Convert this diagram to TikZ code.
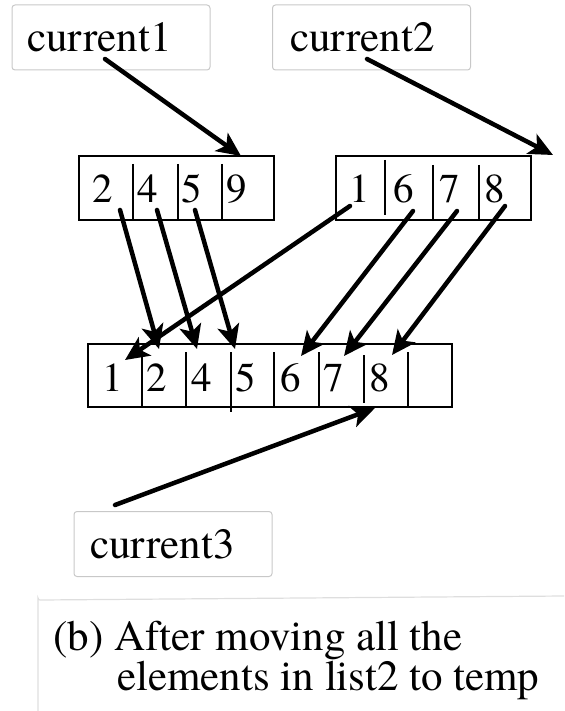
\documentclass[tikz,border=0pt]{standalone}
\usepackage{fontspec}
\newfontfamily\timesx{TeX Gyre Termes}
\usetikzlibrary{arrows.meta}
\definecolor{labelgray}{RGB}{200,200,200}
\definecolor{capgray}{RGB}{222,222,222}
\begin{document}
\begin{tikzpicture}[x=1pt,y=-1pt,
  lbl/.style={draw=labelgray, line width=1pt, rounded corners=3pt, minimum width=198pt, minimum height=65pt, inner sep=0pt},
  lbltext/.style={anchor=base west, inner sep=0pt, font=\timesx\fontsize{43}{48}\selectfont},
  digit/.style={anchor=base, inner sep=0pt, font=\timesx\fontsize{41}{46}\selectfont},
  cell/.style={line width=2.7pt},
  ptr/.style={line width=4.5pt, line cap=round, -{Stealth[length=24pt,width=22pt,inset=6pt]}},
]
\useasboundingbox (0,0) rectangle (564,711);

% label boxes
\node[lbl] (box1) at (111,37.5) {};
\node[lbltext] (t1) at (27,52) {current1};
\node[lbl] (box2) at (371.5,37.5) {};
\node[lbltext] (t2) at (290,52) {current2};
\node[lbl] (box3) at (173,544) {};
\node[lbltext] (t3) at (90,558) {current3};

% list1
\draw[cell] (79,156) rectangle (274,220);
\draw[cell] (133,164) -- (133,220);
\draw[cell] (178,164) -- (178,220);
\draw[cell] (222,164) -- (222,220);
\node[digit] (l1a) at (103,203) {2};
\node[digit] (l1b) at (148,203) {4};
\node[digit] (l1c) at (192,203) {5};
\node[digit] (l1d) at (237,203) {9};

% list2
\draw[cell] (336,156) rectangle (531,220);
\draw[cell] (385,160) -- (385,215);
\draw[cell] (433,165) -- (433,220);
\draw[cell] (479,165) -- (479,220);
\node[digit] (l2a) at (360,203) {1};
\node[digit] (l2b) at (404,203) {6};
\node[digit] (l2c) at (450,203) {7};
\node[digit] (l2d) at (495,203) {8};

% temp
\draw[cell] (88,344) rectangle (452,407);
\draw[cell] (142,353) -- (142,407);
\draw[cell] (186,352) -- (186,407);
\draw[cell] (231,352) -- (231,412);
\draw[cell] (274,352) -- (274,407);
\draw[cell] (319,352) -- (319,407);
\draw[cell] (364,355) -- (364,403);
\draw[cell] (408,352) -- (408,407);
\node[digit] (ta) at (113,391) {1};
\node[digit] (tb) at (157,391) {2};
\node[digit] (tc) at (202,391) {4};
\node[digit] (td) at (246,391) {5};
\node[digit] (te) at (291,391) {6};
\node[digit] (tf) at (334,391) {7};
\node[digit] (tg) at (380,391) {8};

% caption
\draw[capgray, line width=1.2pt] (38,711) -- (38,598) arc[start angle=180, end angle=90, radius=2] -- (564,596);
\node[lbltext] (cap1) at (53,650) {(b) After moving all the};
\node[lbltext] (cap2) at (117,690) {elements in list2 to temp};

% arrow endpoints
\coordinate (c1s) at (105,59);  \coordinate (c1e) at (241,156);
\coordinate (c2s) at (367,59);  \coordinate (c2e) at (553,155);
\coordinate (c3s) at (115,505); \coordinate (c3e) at (375,408);
\coordinate (a2s) at (120,210); \coordinate (a2e) at (159,349);
\coordinate (a4s) at (157,210); \coordinate (a4e) at (197,349);
\coordinate (a5s) at (195,210); \coordinate (a5e) at (235,349);
\coordinate (b1s) at (350,206); \coordinate (b1e) at (125,360);
\coordinate (b6s) at (413,211); \coordinate (b6e) at (301,356);
\coordinate (b7s) at (457,211); \coordinate (b7e) at (344,356);
\coordinate (b8s) at (505,206); \coordinate (b8e) at (392,355);

\draw[ptr] (c1s) -- (c1e);
\draw[ptr] (c2s) -- (c2e);
\draw[ptr] (c3s) -- (c3e);
\draw[ptr] (a2s) -- (a2e);
\draw[ptr] (a4s) -- (a4e);
\draw[ptr] (a5s) -- (a5e);
\draw[ptr] (b1s) -- (b1e);
\draw[ptr] (b6s) -- (b6e);
\draw[ptr] (b7s) -- (b7e);
\draw[ptr] (b8s) -- (b8e);
\end{tikzpicture}
\end{document}
